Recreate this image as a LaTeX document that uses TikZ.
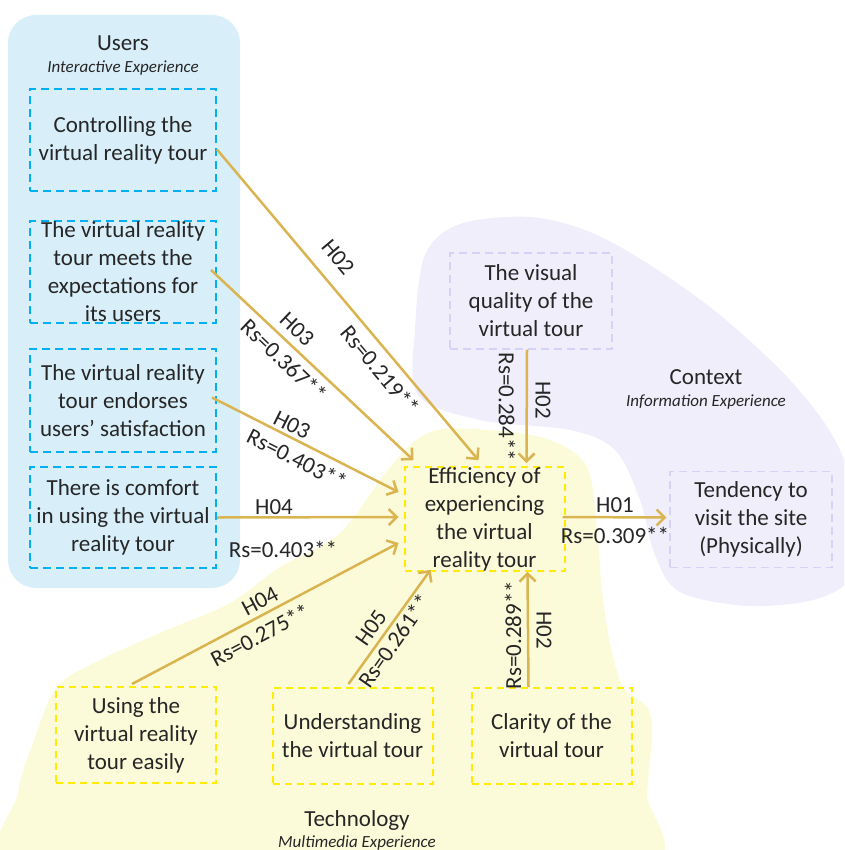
\documentclass[tikz,border=0pt]{standalone}
\usepackage{fontspec}
\setmainfont{Carlito}
\usetikzlibrary{arrows.meta}

\definecolor{ink}{RGB}{38,38,38}
\definecolor{usersbg}{RGB}{216,239,250}
\definecolor{techbg}{RGB}{252,251,217}
\definecolor{ctxbg}{RGB}{239,238,250}
\definecolor{userline}{RGB}{0,176,240}
\definecolor{techline}{RGB}{255,236,0}
\definecolor{ctxline}{RGB}{214,210,246}
\definecolor{gold}{RGB}{217,180,80}

\newcommand{\boxfont}{\fontsize{23}{28}\selectfont}
\newcommand{\subfont}{\fontsize{17}{20}\selectfont\itshape}

\begin{document}
\begin{tikzpicture}[x=1pt,y=-1pt,
		ubox/.style={draw=userline,line width=2pt,dash pattern=on 8pt off 5pt,minimum width=186pt,inner sep=0pt,align=center,font=\boxfont,text=ink},
		tbox/.style={draw=techline,line width=2pt,dash pattern=on 7pt off 5pt,minimum width=160pt,minimum height=96pt,inner sep=0pt,align=center,font=\boxfont,text=ink},
		cbox/.style={draw=ctxline,line width=1.2pt,dash pattern=on 8pt off 5pt,minimum width=162pt,minimum height=96pt,inner sep=0pt,align=center,font=\boxfont,text=ink},
		link/.style={draw=gold,line width=2.5pt,-{Straight Barb[length=8pt,width=16pt]}},
		lab/.style={font=\boxfont,text=ink,inner sep=1pt},
		head/.style={font=\boxfont,text=ink},
		sub/.style={font=\subfont,text=ink}]

	\useasboundingbox (0,0) rectangle (844,850);
	\clip (0,0) rectangle (844,850);

	% backgrounds
	\fill[ctxbg] plot[smooth cycle,tension=0.55] coordinates {(415,330) (425,255) (460,224) (530,217) (590,232) (650,265) (720,315) (790,380) (835,440) (855,500) (855,570) (820,598) (750,606) (680,592) (655,555) (640,500) (615,450) (570,430) (480,420) (418,395)};
	\fill[techbg] plot[smooth cycle,tension=0.55] coordinates {(18,793) (33,743) (57,687) (100,660) (167,630) (230,603) (280,567) (340,533) (390,467) (430,432) (490,430) (550,440) (587,467) (597,530) (602,590) (610,643) (623,687) (647,707) (652,733) (647,793) (640,870) (300,885) (15,870)};
	\fill[usersbg,rounded corners=28pt] (8,15) rectangle (240,588);

	% group titles
	\node[head] (users)		at (123,43)		{Users};
	\node[sub]  (usersS)	at (123,68)		{Interactive Experience};
	\node[head] (context)	at (706,377)	{Context};
	\node[sub]  (contextS)	at (706,402)	{Information Experience};
	\node[head] (tech)		at (357,820)	{Technology};
	\node[sub]  (techS)		at (357,843)	{Multimedia Experience};

	% boxes
	\node[ubox,minimum height=102pt]	(u1)	at (123,140.5)	{Controlling the\\virtual reality tour};
	\node[ubox,minimum height=102pt]	(u2)	at (123,272)	{The virtual reality\\tour meets the\\expectations for\\its users};
	\node[ubox,minimum height=103pt]	(u3)	at (123,400.5)	{The virtual reality\\tour endorses\\users’ satisfaction};
	\node[ubox,minimum height=101pt]	(u4)	at (123,517.5)	{There is comfort\\in using the virtual\\reality tour};

	\node[tbox]		(eff)	at (484.5,519)	{Efficiency of\\experiencing\\the virtual\\reality tour};
	\node[tbox]		(t1)	at (136,735)	{Using the\\virtual reality\\tour easily};
	\node[tbox]		(t2)	at (352.5,736)	{Understanding\\the virtual tour};
	\node[tbox]		(t3)	at (551.5,736)	{Clarity of the\\virtual tour};

	\node[cbox]		(vis)	at (531,301)	{The visual\\quality of the\\virtual tour};
	\node[cbox]		(tend)	at (751,519.5)	{Tendency to\\visit the site\\(Physically)};

	% links
	\draw[link] ([shift={(0,9)}]u1.east) -- ([shift={(-6,-6)}]eff.north);
	\draw[link] ([shift={(-6,-2)}]u2.east) -- ([shift={(10,-6)}]eff.north west);
	\draw[link] ([shift={(-5,-3)}]u3.east) -- ([shift={(-5,-27)}]eff.west);
	\draw[link] (u4.east) -- ([shift={(-5,-2)}]eff.west);
	\draw[link] ([shift={(-4,-2)}]t1.north) -- ([shift={(-5,24)}]eff.west);
	\draw[link] ([shift={(-4,-3)}]t2.north) -- ([shift={(27,-2)}]eff.south west);
	\draw[link] ([shift={(-23,0)}]t3.north) -- ([shift={(43,0)}]eff.south);
	\draw[link] ([shift={(-4,0)}]vis.south) -- ([shift={(42,-3)}]eff.north);
	\draw[link] ([shift={(-3,-2)}]eff.east) -- ([shift={(-3,-2)}]tend.west);

	% labels
	\node[lab,rotate=-50]	(h1a)	at (338,257)	{H02};
	\node[lab,rotate=-50]	(r1a)	at (380,370)	{Rs=0.219**};
	\node[lab,rotate=-43.6]	(h2a)	at (297,329)	{H03};
	\node[lab,rotate=-43.6]	(r2a)	at (284,360)	{Rs=0.367**};
	\node[lab,rotate=-26.7]	(h3a)	at (292,425)	{H03};
	\node[lab,rotate=-26.7]	(r3a)	at (297,459)	{Rs=0.403**};
	\node[lab]				(h4a)	at (274,507)	{H04};
	\node[lab]				(r4a)	at (283,549)	{Rs=0.403**};
	\node[lab,rotate=27.9]	(h5a)	at (260,601)	{H04};
	\node[lab,rotate=27.9]	(r5a)	at (260,635)	{Rs=0.275**};
	\node[lab,rotate=55]	(h6a)	at (371,628)	{H05};
	\node[lab,rotate=55]	(r6a)	at (394,641)	{Rs=0.261**};
	\node[lab,rotate=-90]	(h7a)	at (544,630)	{H02};
	\node[lab,rotate=90]	(r7a)	at (513,635)	{Rs=0.289**};
	\node[lab,rotate=-90]	(h8a)	at (543,400)	{H02};
	\node[lab,rotate=-90]	(r8a)	at (507,407)	{Rs=0.284**};
	\node[lab]				(h9a)	at (615,505)	{H01};
	\node[lab]				(r9a)	at (615,535)	{Rs=0.309**};
\end{tikzpicture}
\end{document}
